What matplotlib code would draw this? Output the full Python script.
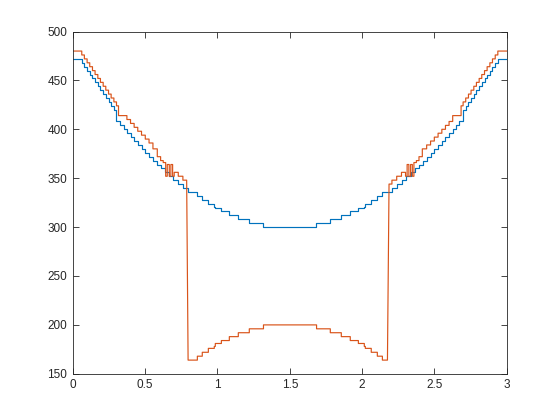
import matplotlib
matplotlib.use('Agg')
import matplotlib.pyplot as plt
import numpy as np

C_BLUE = '#0072BD'
C_ORANGE = '#D95319'
C_AXES = '#262626'

# ─── Blue series: x where each step starts, and its level ───
blue_x = [0.000, 0.062, 0.080, 0.099, 0.117, 0.136, 0.154, 0.173, 0.191, 0.210,
          0.228, 0.247, 0.265, 0.284, 0.302, 0.327, 0.351, 0.375, 0.399, 0.424,
          0.449, 0.475, 0.501, 0.527, 0.554, 0.581, 0.608, 0.636, 0.664, 0.694,
          0.726, 0.761, 0.797, 0.861, 0.895, 0.937, 0.978, 0.985, 1.027, 1.082,
          1.144, 1.220, 1.318,
          1.682, 1.780, 1.856, 1.918, 1.974, 2.015, 2.022, 2.063, 2.105, 2.139,
          2.203, 2.239, 2.274, 2.306, 2.336, 2.364, 2.392, 2.419, 2.446, 2.473,
          2.499, 2.525, 2.551, 2.576, 2.601, 2.625, 2.649, 2.673, 2.698, 2.716,
          2.735, 2.753, 2.772, 2.790, 2.809, 2.827, 2.846, 2.864, 2.883, 2.901,
          2.920, 2.938]
blue_y = [472, 468, 464, 460, 456, 452, 448, 444, 440, 436,
          432, 428, 424, 420, 408, 404, 400, 396, 392, 388,
          384, 380, 376, 372, 368, 364, 360, 356, 352, 348,
          344, 340, 336, 332, 328, 324, 320.5, 319.5, 316, 312,
          308, 304, 300,
          304, 308, 312, 316, 319.5, 320.5, 324, 328, 332, 336,
          340, 344, 348, 352, 356, 360, 364, 368, 372, 376,
          380, 384, 388, 392, 396, 400, 404, 408, 420, 424,
          428, 432, 436, 440, 444, 448, 452, 456, 460, 464,
          468, 472]

# ─── Orange series, in pieces ───
# upper left stairs
orange_left_x = [0.000, 0.062, 0.080, 0.099, 0.117, 0.136, 0.154, 0.173, 0.191, 0.210,
                 0.228, 0.247, 0.265, 0.284, 0.302, 0.316, 0.374, 0.399, 0.424,
                 0.449, 0.475, 0.501, 0.527, 0.554, 0.584, 0.607, 0.625]
orange_left_y = [480, 476, 472, 468, 464, 460, 456, 452, 448, 444,
                 440, 436, 432, 428, 424, 414, 410, 406, 402,
                 398, 394, 390, 386, 380, 372, 368, 366]
# zigzag and drop on the left
orange_zl_x = [0.642, 0.642, 0.653, 0.653, 0.667, 0.667, 0.678, 0.678, 0.690, 0.690,
               0.701, 0.701, 0.729, 0.729, 0.761, 0.761, 0.787, 0.797]
orange_zl_y = [366, 352, 352, 364, 364, 352, 352, 364, 364, 352,
               352, 356, 356, 352, 352, 348, 348, 164]
# bottom stairs
orange_mid_x = [0.797, 0.861, 0.895, 0.937, 0.978, 0.985, 1.027, 1.082, 1.144, 1.220,
                1.318, 1.685, 1.780, 1.856, 1.918, 1.974, 2.015, 2.022, 2.063, 2.105,
                2.140]
orange_mid_y = [164, 168, 172, 176, 178, 181, 184, 188, 192, 196,
                200, 196, 192, 188, 184, 181, 178, 176, 172, 168,
                164]
# rise and zigzag on the right
orange_zr_x = [2.175, 2.186, 2.186, 2.206, 2.206, 2.239, 2.239, 2.272, 2.272, 2.300,
               2.300, 2.311, 2.311, 2.323, 2.323, 2.335, 2.335, 2.347, 2.347, 2.358,
               2.358, 2.375]
orange_zr_y = [164, 340, 344, 344, 348, 348, 352, 352, 356, 356,
               352, 352, 364, 364, 352, 352, 364, 364, 352, 352,
               366, 366]
# upper right stairs
orange_right_x = [2.375, 2.393, 2.416, 2.446, 2.473, 2.499, 2.525, 2.551, 2.576, 2.601,
                  2.626, 2.684, 2.698, 2.716, 2.735, 2.753, 2.772, 2.790, 2.809, 2.827,
                  2.846, 2.864, 2.883, 2.901, 2.920, 2.938]
orange_right_y = [368, 372, 380, 384, 388, 392, 396, 400, 404, 408,
                  414, 424, 428, 432, 436, 440, 444, 448, 452, 456,
                  460, 464, 468, 472, 476, 480]


def stairs_xy(xs, ys, x_end):
    xs = np.asarray(xs, float)
    ys = np.asarray(ys, float)
    ends = np.append(xs[1:], x_end)
    return np.column_stack([xs, ends]).ravel(), np.repeat(ys, 2)


bx, by = stairs_xy(blue_x, blue_y, 3.0)

lx, ly = stairs_xy(orange_left_x, orange_left_y, orange_zl_x[0])
mx, my = stairs_xy(orange_mid_x, orange_mid_y, orange_zr_x[0])
rx, ry = stairs_xy(orange_right_x, orange_right_y, 3.0)
ox = np.concatenate([lx, orange_zl_x, mx, orange_zr_x, rx])
oy = np.concatenate([ly, orange_zl_y, my, orange_zr_y, ry])

fig = plt.figure(figsize=(5.6, 4.2), dpi=100)
fig.patch.set_facecolor('white')
ax = fig.add_axes([0.13, 0.11, 0.775, 0.815])

ax.plot(bx, by, color=C_BLUE, linewidth=0.85)
ax.plot(ox, oy, color=C_ORANGE, linewidth=0.85)

ax.set_xlim(0, 3)
ax.set_ylim(150, 500)
ax.set_xticks([0, 0.5, 1, 1.5, 2, 2.5, 3])
ax.set_xticklabels(['0', '0.5', '1', '1.5', '2', '2.5', '3'])
ax.set_yticks(np.arange(150, 501, 50))

for sp in ax.spines.values():
    sp.set_color(C_AXES)
    sp.set_linewidth(0.6)
ax.tick_params(direction='in', top=True, right=True, length=4, width=0.6,
               colors=C_AXES, labelsize=8.5, pad=4)
for lab in ax.get_xticklabels() + ax.get_yticklabels():
    lab.set_family('Liberation Sans')

fig.savefig('out.png', dpi=100, facecolor='white')
